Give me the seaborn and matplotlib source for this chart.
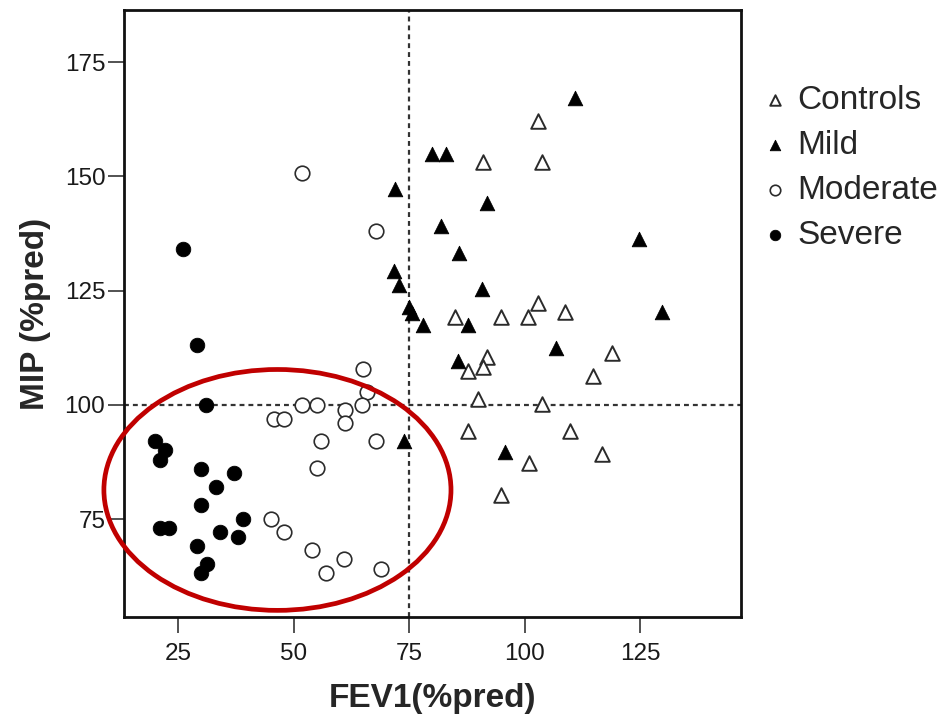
import matplotlib
matplotlib.use("Agg")
import matplotlib.pyplot as plt
import seaborn as sns
from matplotlib.patches import Ellipse

# ---------------- data ----------------
controls_x = [102.9, 90.9, 103.7, 102.9, 84.9, 94.8, 100.8, 108.8, 118.8, 91.9,
              87.8, 90.9, 114.8, 89.8, 103.8, 87.8, 109.8, 116.8, 100.9, 94.8]
controls_y = [162.1, 153.1, 153.1, 122.3, 119.3, 119.3, 119.3, 120.3, 111.4, 110.4,
              107.4, 108.4, 106.3, 101.4, 100.2, 94.3, 94.3, 89.3, 87.4, 80.3]

mild_x = [110.8, 80.0, 83.0, 71.9, 91.9, 81.8, 124.7, 85.8, 71.8, 72.8,
          90.8, 74.9, 75.7, 77.9, 87.8, 129.7, 106.8, 85.6, 73.9, 95.8]
mild_y = [167.1, 154.9, 154.9, 147.2, 144.1, 139.2, 136.3, 133.3, 129.3, 126.3,
          125.3, 121.4, 120.2, 117.4, 117.4, 120.3, 112.4, 109.5, 92.2, 89.6]

moderate_x = [51.9, 67.9, 65.0, 65.9, 51.9, 55.0, 61.1, 64.9, 45.8, 48.0,
              61.1, 55.9, 67.9, 55.0, 45.0, 48.0, 53.9, 61.0, 57.0, 69.0]
moderate_y = [150.8, 138.0, 107.9, 102.9, 100.0, 100.0, 98.9, 100.0, 97.0, 97.0,
              96.0, 92.0, 92.0, 86.1, 75.1, 72.1, 68.2, 66.2, 63.2, 64.2]

severe_x = [26.1, 29.2, 31.0, 20.0, 22.2, 21.0, 30.0, 37.1, 33.1, 30.0,
            39.0, 21.0, 23.1, 34.1, 38.0, 29.2, 31.2, 30.0]
severe_y = [134.1, 113.1, 100.0, 92.1, 90.1, 88.0, 86.0, 85.1, 82.0, 78.0,
            75.1, 73.1, 73.1, 72.1, 71.0, 69.1, 65.2, 63.2]

group_labels = ["Controls", "Mild", "Moderate", "Severe"]
x_ticks = [25, 50, 75, 100, 125]
y_ticks = [75, 100, 125, 150, 175]
cutoff_fev1 = 75
cutoff_mip = 100
x_label = "FEV1(%pred)"
y_label = "MIP (%pred)"

# ---------------- style ----------------
sns.set_style("white")
plt.rcParams["font.family"] = ["Liberation Sans", "DejaVu Sans"]

W, H = 946, 723
fig = plt.figure(figsize=(W / 100, H / 100), dpi=100)
ax = fig.add_axes([124 / W, 1 - 617 / H, (741 - 124) / W, (617 - 10) / H])

dark = "#2b2b2b"
specs = [
    (controls_x, controls_y, "^", "white", dark, 1.4),
    (mild_x, mild_y, "^", "black", "black", 0.6),
    (moderate_x, moderate_y, "o", "white", dark, 1.2),
    (severe_x, severe_y, "o", "black", "black", 0.6),
]
for (xs, ys, m, fc, ec, lw), lab in zip(specs, group_labels):
    sns.scatterplot(x=xs, y=ys, marker=m, s=110, facecolor=fc, edgecolor=ec,
                    linewidth=lw, ax=ax, label=lab, zorder=3)

ax.axhline(cutoff_mip, color="#333333", lw=1.6, ls=(0, (2.2, 1.8)), zorder=1)
ax.axvline(cutoff_fev1, color="#333333", lw=1.6, ls=(0, (2.2, 1.8)), zorder=1)

ax.set_xlim(13.3, 146.8)
ax.set_ylim(53.6, 186.4)
ax.set_xticks(x_ticks)
ax.set_yticks(y_ticks)
ax.tick_params(direction="out", length=11.5, width=1.3, color="#444444",
               labelsize=17.5, labelcolor="#1a1a1a", bottom=True, left=True)
ax.tick_params(axis="x", pad=7)
ax.tick_params(axis="y", pad=2)
for sp in ax.spines.values():
    sp.set_linewidth(2.0)
    sp.set_color("#111111")
    sp.set_visible(True)

ax.set_xlabel(x_label, fontsize=24, fontweight="bold", labelpad=13)
ax.set_ylabel(y_label, fontsize=24, fontweight="bold", labelpad=10)

# highlight ellipse (annotation)
ell = Ellipse((46.5, 81.4), 75.1, 52.7, fill=False, edgecolor="#c00000",
              lw=3.4, clip_on=False, zorder=4)
ax.add_patch(ell)

ax.legend(frameon=False, loc="upper left", bbox_to_anchor=(762 / W, 1 - 85 / H),
          bbox_transform=fig.transFigure, fontsize=24, markerscale=0.72,
          handlelength=0.75, handletextpad=0.3, labelspacing=0.42,
          borderaxespad=0, borderpad=0)

fig.savefig("out.png", dpi=100)
